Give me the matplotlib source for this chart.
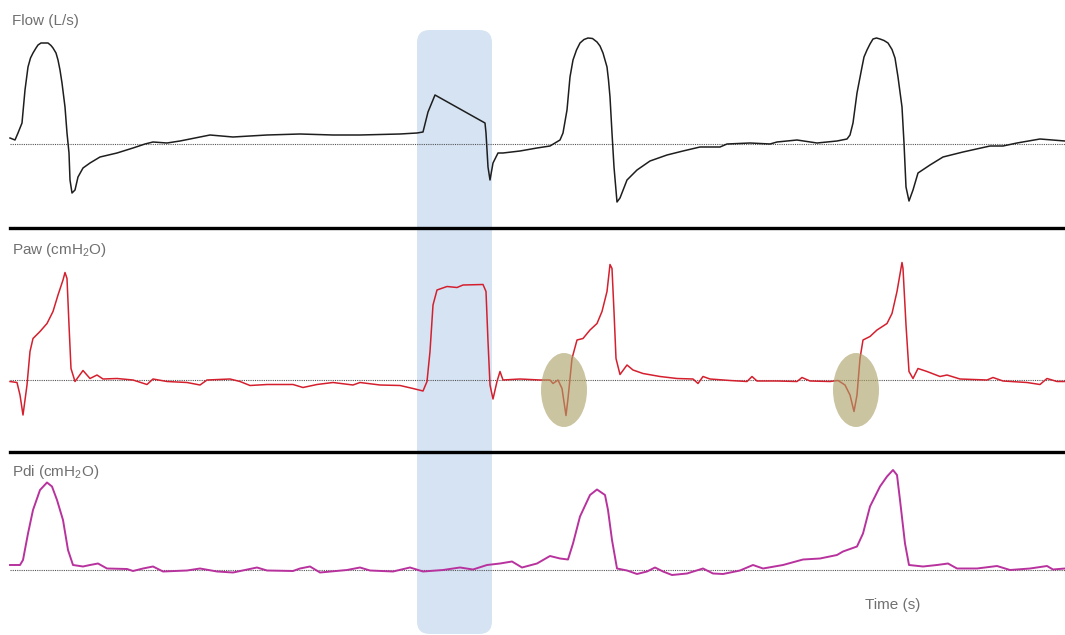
import matplotlib
matplotlib.use("Agg")
import matplotlib.pyplot as plt
from matplotlib.patches import FancyBboxPatch, Ellipse
from matplotlib.lines import Line2D

plt.rcParams['font.family'] = ['Liberation Sans', 'DejaVu Sans']
plt.rcParams['mathtext.default'] = 'regular'

# ---------------- data ----------------
flow_t = [0.10, 0.15, 0.18, 0.22, 0.25, 0.28, 0.305, 0.33, 0.36, 0.38, 0.41, 0.43, 0.46, 0.48, 0.51,
          0.53, 0.56, 0.58, 0.60, 0.62, 0.635, 0.65, 0.67, 0.69, 0.70, 0.72, 0.75, 0.78, 0.83, 0.90,
          1.00, 1.17, 1.33, 1.45, 1.53, 1.67, 1.80, 2.00, 2.10, 2.33, 2.67, 3.00, 3.33, 3.60, 3.80,
          4.00, 4.17, 4.23, 4.28, 4.35, 4.85, 4.86, 4.88, 4.90, 4.93, 4.98, 5.03, 5.20, 5.37, 5.50,
          5.55, 5.60, 5.63, 5.67, 5.70, 5.73, 5.765, 5.80, 5.84, 5.88, 5.925, 5.97, 6.00, 6.03, 6.07,
          6.085, 6.10, 6.11, 6.12, 6.14, 6.17, 6.20, 6.27, 6.37, 6.50, 6.67, 6.83, 7.00, 7.20, 7.27,
          7.50, 7.70, 7.77, 7.97, 8.17, 8.37, 8.47, 8.50, 8.53, 8.57, 8.62, 8.64, 8.67, 8.70, 8.73,
          8.765, 8.80, 8.84, 8.88, 8.92, 8.95, 8.98, 9.02, 9.04, 9.06, 9.09, 9.13, 9.18, 9.30, 9.43,
          9.63, 9.90, 10.03, 10.17, 10.40, 10.65]
flow_v = [0.06, 0.04, 0.11, 0.21, 0.54, 0.77, 0.86, 0.91, 0.96, 0.99, 1.01, 1.01, 1.01, 1.01, 0.985,
          0.96, 0.91, 0.84, 0.74, 0.61, 0.49, 0.37, 0.11, -0.09, -0.36, -0.49, -0.46, -0.33, -0.24, -0.19,
          -0.13, -0.09, -0.04, 0.00, 0.02, 0.01, 0.03, 0.07, 0.09, 0.07, 0.09, 0.10, 0.09, 0.09, 0.095,
          0.10, 0.11, 0.12, 0.32, 0.49, 0.21, 0.11, -0.23, -0.36, -0.19, -0.09, -0.09, -0.07, -0.04, -0.02,
          0.01, 0.04, 0.11, 0.34, 0.67, 0.84, 0.94, 1.01, 1.045, 1.06, 1.055, 1.02, 0.98, 0.91, 0.77,
          0.64, 0.47, 0.29, 0.11, -0.23, -0.58, -0.54, -0.36, -0.26, -0.17, -0.11, -0.07, -0.03, -0.03, 0.00,
          0.01, 0.00, 0.02, 0.04, 0.01, 0.03, 0.05, 0.09, 0.21, 0.51, 0.77, 0.87, 0.94, 1.00, 1.05,
          1.06, 1.05, 1.035, 1.01, 0.945, 0.86, 0.67, 0.37, 0.01, -0.43, -0.57, -0.46, -0.29, -0.21, -0.13,
          -0.08, -0.02, -0.02, 0.01, 0.05, 0.03]

paw_t = [0.10, 0.17, 0.20, 0.23, 0.27, 0.30, 0.33, 0.40, 0.47, 0.53, 0.58, 0.63, 0.65, 0.67, 0.69,
         0.71, 0.75, 0.83, 0.90, 0.97, 1.03, 1.17, 1.33, 1.47, 1.53, 1.67, 1.87, 2.00, 2.07, 2.30,
         2.40, 2.50, 2.67, 2.93, 3.03, 3.17, 3.33, 3.53, 3.60, 3.80, 4.00, 4.13, 4.23, 4.27, 4.30,
         4.33, 4.37, 4.47, 4.57, 4.63, 4.83, 4.86, 4.88, 4.90, 4.93, 4.97, 5.00, 5.03, 5.20, 5.40,
         5.50, 5.53, 5.58, 5.62, 5.66, 5.68, 5.72, 5.77, 5.83, 5.90, 5.97, 6.02, 6.07, 6.10, 6.12,
         6.14, 6.16, 6.20, 6.27, 6.33, 6.43, 6.60, 6.77, 6.93, 6.98, 7.03, 7.10, 7.30, 7.47, 7.52,
         7.57, 7.77, 7.97, 8.02, 8.10, 8.30, 8.38, 8.45, 8.50, 8.54, 8.57, 8.60, 8.63, 8.70, 8.77,
         8.87, 8.92, 8.97, 9.02, 9.03, 9.06, 9.09, 9.13, 9.18, 9.27, 9.40, 9.47, 9.60, 9.87, 9.93,
         10.03, 10.27, 10.40, 10.47, 10.57, 10.65]
paw_v = [-0.3, -0.5, -3.0, -7.0, -1.0, 5.7, 8.3, 9.7, 11.3, 13.7, 17.0, 20.0, 21.5, 20.3, 11.0,
         2.3, -0.3, 1.9, 0.3, 1.0, 0.2, 0.3, 0.0, -0.9, 0.2, -0.3, -0.5, -1.0, 0.0, 0.2,
         -0.3, -1.1, -0.9, -0.9, -1.5, -0.9, -0.5, -1.0, -0.5, -1.0, -1.1, -1.7, -2.2, -0.3, 5.7,
         15.0, 18.0, 18.7, 18.5, 19.0, 19.1, 17.7, 7.7, -1.0, -3.8, -0.3, 1.7, 0.0, 0.2, 0.0,
         0.0, -0.7, 0.0, -1.7, -7.1, -3.7, 4.3, 8.0, 8.3, 10.0, 11.3, 13.7, 17.7, 23.1, 22.3,
         13.7, 4.3, 1.1, 3.0, 2.0, 1.3, 0.7, 0.3, 0.2, -0.7, 0.7, 0.2, -0.1, -0.3, 0.7,
         -0.2, -0.2, -0.3, 0.5, -0.2, -0.3, -0.1, -1.0, -3.0, -6.3, -3.0, 4.3, 8.0, 8.7, 10.0,
         11.3, 13.3, 17.7, 23.5, 22.3, 11.0, 1.7, 0.3, 2.3, 1.7, 0.7, 1.0, 0.2, 0.0, 0.5,
         -0.2, -0.5, -0.9, 0.3, -0.3, -0.3]

pdi_t = [0.10, 0.20, 0.23, 0.28, 0.33, 0.40, 0.47, 0.52, 0.57, 0.63, 0.68, 0.73, 0.83, 0.90, 0.98,
         1.07, 1.27, 1.33, 1.43, 1.53, 1.63, 1.87, 2.00, 2.17, 2.33, 2.57, 2.67, 2.93, 3.00, 3.10,
         3.20, 3.47, 3.60, 3.70, 3.93, 4.10, 4.23, 4.43, 4.60, 4.73, 4.87, 5.00, 5.12, 5.22, 5.37,
         5.50, 5.60, 5.68, 5.73, 5.80, 5.90, 5.97, 6.05, 6.08, 6.12, 6.17, 6.27, 6.37, 6.47, 6.55,
         6.63, 6.72, 6.87, 7.03, 7.13, 7.23, 7.40, 7.53, 7.63, 7.83, 8.03, 8.20, 8.37, 8.43, 8.57,
         8.63, 8.70, 8.80, 8.87, 8.93, 8.97, 9.00, 9.05, 9.09, 9.23, 9.37, 9.48, 9.57, 9.77, 9.97,
         10.10, 10.30, 10.47, 10.53, 10.65]
pdi_v = [1.0, 1.0, 2.0, 7.3, 12.0, 16.0, 17.5, 16.7, 14.0, 10.0, 4.0, 1.0, 0.7, 1.0, 1.3,
         0.3, 0.2, -0.2, 0.3, 0.7, -0.3, -0.1, 0.3, -0.3, -0.5, 0.5, -0.1, -0.2, 0.3, 0.7,
         -0.5, 0.0, 0.5, -0.1, -0.3, 0.5, -0.3, 0.0, 0.5, 0.1, 1.0, 1.3, 1.7, 0.5, 1.3,
         2.8, 2.3, 2.1, 5.3, 10.7, 15.0, 16.1, 15.0, 12.0, 6.0, 0.3, -0.1, -0.8, -0.3, 0.5,
         -0.3, -1.0, -0.7, 0.3, -0.7, -0.8, -0.1, 1.0, 0.3, 1.0, 2.1, 2.3, 3.0, 3.7, 4.7,
         7.3, 12.7, 16.7, 18.7, 20.0, 19.0, 14.0, 5.3, 1.0, 0.7, 1.0, 1.3, 0.3, 0.3, 0.8,
         0.0, 0.3, 0.8, 0.1, 0.3]

panel_labels = ["Flow (L/s)", "Paw (cmH$_2$O)", "Pdi (cmH$_2$O)"]
xlabel_text = "Time (s)"
ineffort_t = [5.64, 8.56]   # centres of highlighted ineffective efforts (s)

# ---------------- layout ----------------
W, H = 1065, 635
fig = plt.figure(figsize=(W / 100, H / 100), dpi=100)
fig.patch.set_facecolor('white')

def fy(py):
    return 1 - py / H

# blue highlight band spanning all panels
band = FancyBboxPatch((417 / W, fy(634)), 75 / W, (634 - 30) / H,
                      boxstyle="round,pad=0,rounding_size=0.012",
                      transform=fig.transFigure, facecolor='#d5e3f3',
                      edgecolor='none', zorder=-5, mutation_aspect=W / H)
fig.add_artist(band)

# panels: (top px, bottom px, baseline px, px per unit)
panels = [(0, 228, 144, 100.0), (228, 452, 380, 5.0), (452, 635, 570, 5.0)]
axes = []
for top, bot, base, scale in panels:
    ax = fig.add_axes([0, fy(bot), 1, (bot - top) / H])
    ax.set_xlim(0, W / 100)
    ax.set_ylim((base - bot) / scale, (base - top) / scale)
    ax.patch.set_alpha(0)
    ax.axis('off')
    ax.axhline(0, xmin=10 / W, xmax=1, color='#555555', lw=0.8, ls=(0, (1, 1)), zorder=1)
    axes.append(ax)

axes[0].plot(flow_t, flow_v, color='#1e1e1e', lw=1.1, zorder=3)
axes[1].plot(paw_t, paw_v, color='#d4202e', lw=1.1, zorder=3)
axes[2].plot(pdi_t, pdi_v, color='#b8329e', lw=1.4, zorder=3)

for tc in ineffort_t:
    e = Ellipse((tc, -2.0), 0.46, 14.8, facecolor=(0.67, 0.63, 0.40), alpha=0.62,
                edgecolor='none', zorder=4)
    axes[1].add_patch(e)

# separator lines
for py in (228, 452):
    fig.add_artist(Line2D([10 / W, 1], [fy(py), fy(py)], transform=fig.transFigure,
                          color='black', lw=2.4, zorder=10))

# labels
label_y = [21, 250, 472]
for lab, py in zip(panel_labels, label_y):
    fig.text(12 / W, fy(py), lab, fontsize=11, color='#707070', ha='left', va='center')
fig.text(865 / W, fy(605), xlabel_text, fontsize=11, color='#707070', ha='left', va='center')

fig.savefig('out.png', dpi=100)
